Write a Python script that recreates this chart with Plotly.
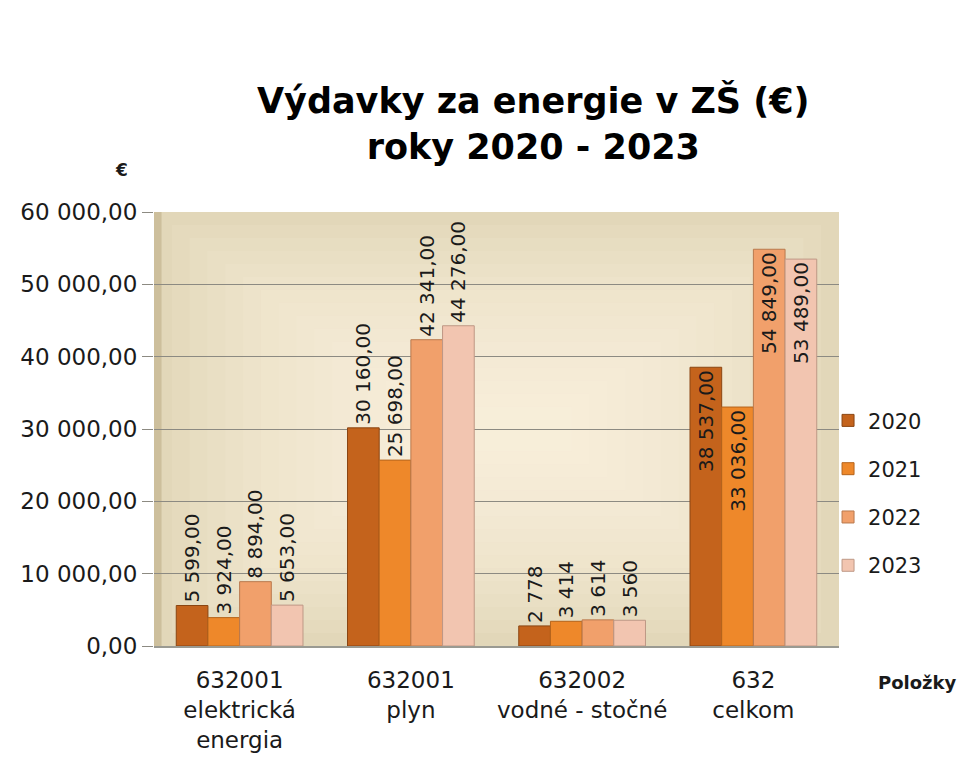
import plotly.graph_objects as go

categories = ["632001<br>elektrická<br>energia", "632001<br>plyn", "632002<br>vodné - stočné", "632<br>celkom"]
years = ["2020", "2021", "2022", "2023"]
values = {
    "2020": [5599, 30160, 2778, 38537],
    "2021": [3924, 25698, 3414, 33036],
    "2022": [8894, 42341, 3614, 54849],
    "2023": [5653, 44276, 3560, 53489],
}
labels = {
    "2020": ["5 599,00", "30 160,00", "2 778", "38 537,00"],
    "2021": ["3 924,00", "25 698,00", "3 414", "33 036,00"],
    "2022": ["8 894,00", "42 341,00", "3 614", "54 849,00"],
    "2023": ["5 653,00", "44 276,00", "3 560", "53 489,00"],
}
positions = {
    "2020": ["outside", "outside", "outside", "inside"],
    "2021": ["outside", "outside", "outside", "inside"],
    "2022": ["outside", "outside", "outside", "inside"],
    "2023": ["outside", "outside", "outside", "inside"],
}
tick_vals = [0, 10000, 20000, 30000, 40000, 50000, 60000]
tick_text = ["0,00", "10 000,00", "20 000,00", "30 000,00", "40 000,00", "50 000,00", "60 000,00"]

colors = {"2020": "#C4631C", "2021": "#EE882A", "2022": "#F1A06B", "2023": "#F2C5B0"}
edges = {"2020": "#8A4512", "2021": "#B5641C", "2022": "#B9794E", "2023": "#BE9886"}

FONT = "DejaVu Sans"

fig = go.Figure()
for y in years:
    fig.add_trace(go.Bar(
        name=y, x=categories, y=values[y],
        text=labels[y], textposition=positions[y], textangle=-90,
        insidetextanchor="end", constraintext="none", cliponaxis=False,
        textfont=dict(family=FONT, size=20, color="#1a1a1a"),
        outsidetextfont=dict(family=FONT, size=20, color="#1a1a1a"),
        insidetextfont=dict(family=FONT, size=20, color="#1a1a1a"),
        marker=dict(color=colors[y], line=dict(color=edges[y], width=1)),
        legendgroup=y,
    ))

shapes = []
# soft radial-ish glow in the plot background
for i in range(16):
    f = i * 0.026
    shapes.append(dict(type="rect", xref="paper", yref="paper",
                       x0=f, x1=1 - f, y0=f * 1.15, y1=1 - f * 1.15,
                       fillcolor="#FBF7E8", opacity=0.11, line=dict(width=0), layer="below"))
# left wall strip
shapes.append(dict(type="rect", xref="paper", yref="paper", x0=0, x1=0.011, y0=0, y1=1,
                   fillcolor="#CDBF9C", line=dict(width=0), layer="below"))

fig.update_layout(
    width=949, height=757,
    margin=dict(l=145, r=118, t=204, b=113),
    paper_bgcolor="white", plot_bgcolor="#DFD4B4",
    barmode="group", bargap=0.26, bargroupgap=0.0,
    font=dict(family=FONT, size=22, color="#1a1a1a"),
    shapes=shapes,
    showlegend=True,
    legend=dict(x=0.984, y=0.352, xanchor="left", yanchor="middle",
                font=dict(family=FONT, size=21), tracegroupgap=18,
                itemwidth=30, bgcolor="rgba(0,0,0,0)"),
    annotations=[
        dict(text="<b>Výdavky za energie v ZŠ (€)<br>roky 2020 - 2023</b>", xref="paper", yref="paper",
             x=0.554, y=1.203, xanchor="center", yanchor="middle", showarrow=False,
             font=dict(family=FONT, size=35, color="black")),
        dict(text="<b>€</b>", xref="paper", yref="paper", x=-0.048, y=1.096,
             xanchor="center", yanchor="middle", showarrow=False, font=dict(family=FONT, size=17)),
        dict(text="<b>Položky</b>", xref="paper", yref="paper", x=1.115, y=-0.083,
             xanchor="center", yanchor="middle", showarrow=False, font=dict(family=FONT, size=18)),
    ],
)
fig.update_xaxes(showline=True, linecolor="#9A9A92", linewidth=1.5, ticks="",
                 tickfont=dict(family=FONT, size=23), ticklabelstandoff=13)
fig.update_yaxes(range=[0, 60000], tickvals=tick_vals, ticktext=tick_text,
                 showgrid=True, gridcolor="#8C8A82", gridwidth=1,
                 ticks="outside", ticklen=11, tickcolor="#8C8A82",
                 tickfont=dict(family=FONT, size=23), zeroline=False,
                 showline=False)

fig.write_html("out.html")
